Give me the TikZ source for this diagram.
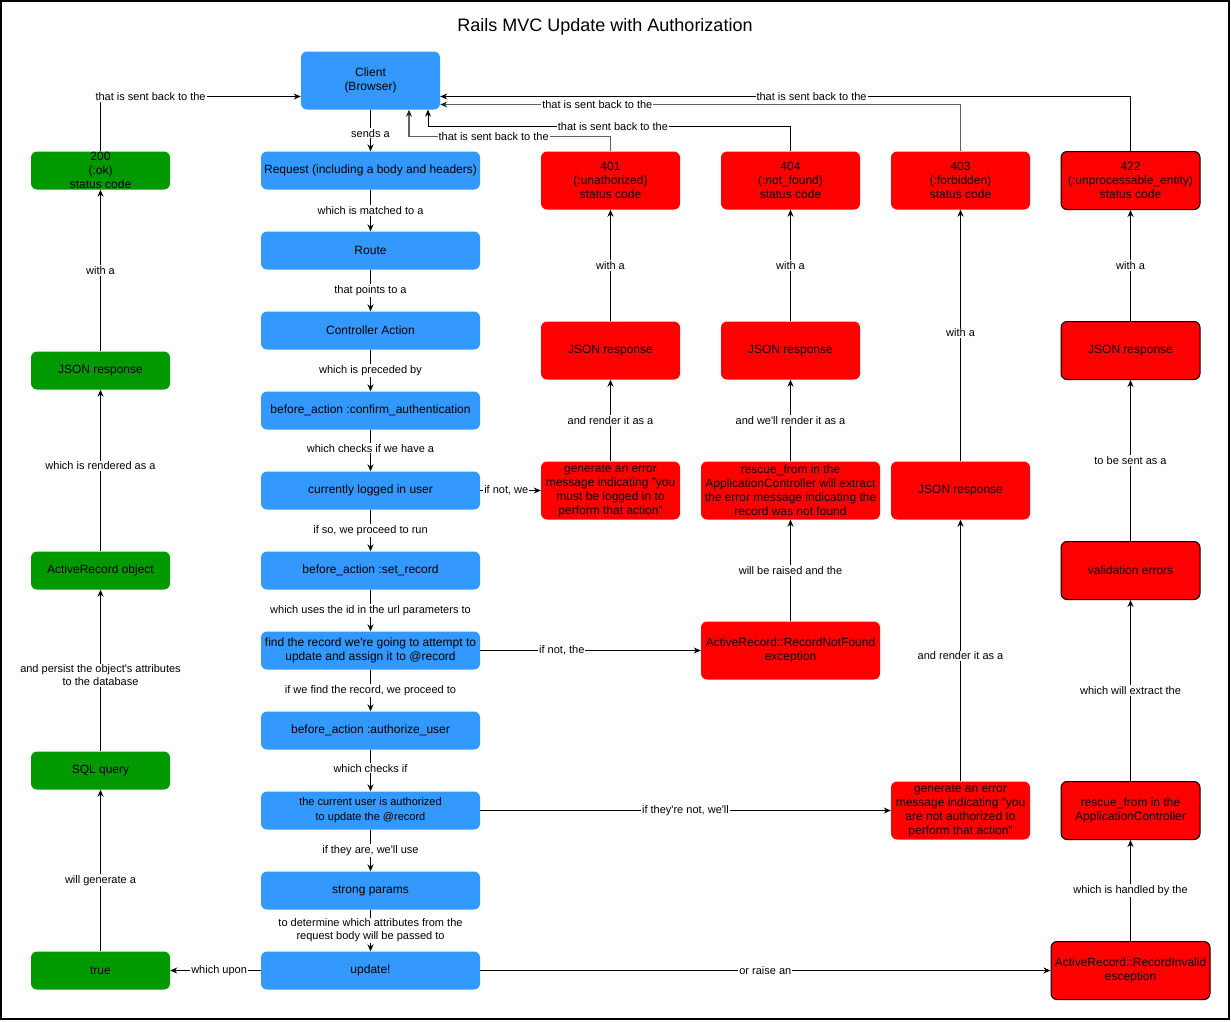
\documentclass[tikz,border=0pt]{standalone}
\usepackage{fontspec}
\setmainfont{Liberation Sans}
\usetikzlibrary{arrows.meta,calc}
\definecolor{railsblue}{HTML}{3399FF}
\definecolor{okgreen}{HTML}{009900}
\definecolor{errred}{HTML}{FF0000}
\newcommand{\aq}{\textquotesingle}
\begin{document}
\begin{tikzpicture}[x=1pt,y=-1pt,
  base/.style={rounded corners=6pt, inner sep=0pt, align=center,
    font=\fontsize{12}{14}\selectfont},
  bluebox/.style={base, fill=railsblue, minimum width=219pt, minimum height=38pt},
  greenbox/.style={base, fill=okgreen, minimum width=139pt, minimum height=38pt},
  redbox/.style={base, fill=errred, minimum width=139pt, minimum height=58pt},
  widered/.style={redbox, minimum width=179pt},
  outlined/.style={draw=black, line width=1pt},
  lbl/.style={fill=white, inner sep=1pt, font=\fontsize{11}{13}\selectfont, align=center},
  arr/.style={draw=black, line width=1pt, -{Stealth[length=7pt,width=6pt]}},
  grayarr/.style={draw=black!62, line width=1.2pt, -{Stealth[length=7pt,width=6pt,color=black!85]}},
]
\useasboundingbox (0,0) rectangle (1231,1021);
\draw[line width=1.5pt] (1,1) rectangle (1229,1019);

\node[font=\fontsize{18}{22}\selectfont] (title) at (605,27) {Rails MVC Update with Authorization};

% ---- request pipeline (blue) ----
\node[bluebox, minimum width=139pt, minimum height=58pt] (client) at (370.5,80.5) {Client\\(Browser)};
\node[bluebox] (request) at (370.5,170.5) {Request (including a body and headers)};
\node[bluebox] (route) at (370.5,250.5) {Route};
\node[bluebox] (action) at (370.5,330.5) {Controller Action};
\node[bluebox] (confirm) at (370.5,410.5) {before\_action :confirm\_authentication};
\node[bluebox] (logged) at (370.5,490.5) {currently logged in user};
\node[bluebox] (setrec) at (370.5,570.5) {before\_action :set\_record};
\node[bluebox] (find) at (370.5,650.5) {find the record we\aq re going to attempt to\\update and assign it to @record};
\node[bluebox] (authuser) at (370.5,730.5) {before\_action :authorize\_user};
\node[bluebox, font=\fontsize{11}{15}\selectfont] (authz) at (370.5,810.5) {the current user is authorized\\to update the @record};
\node[bluebox] (strong) at (370.5,890.5) {strong params};
\node[bluebox] (update) at (370.5,970.5) {update!};

% ---- success path (green) ----
\node[greenbox] (true) at (100.5,970.5) {true};
\node[greenbox] (sql) at (100.5,770.5) {SQL query};
\node[greenbox] (arobj) at (100.5,570.5) {ActiveRecord object};
\node[greenbox] (json200) at (100.5,370.5) {JSON response};
\node[greenbox] (ok) at (100.5,170.5) {};
\node[base] (oktext) at (ok.center) {200\\(:ok)\\status code};

% ---- 401 column ----
\node[redbox] (s401) at (610.5,180.5) {401\\(:unathorized)\\status code};
\node[redbox] (json401) at (610.5,350.5) {JSON response};
\node[redbox] (gen401) at (610.5,490.5) {generate an error\\message indicating "you\\must be logged in to\\perform that action"};

% ---- 404 column ----
\node[redbox] (s404) at (790.5,180.5) {404\\(:not\_found)\\status code};
\node[redbox] (json404) at (790.5,350.5) {JSON response};
\node[widered] (rescue404) at (790.5,490.5) {rescue\_from in the\\ApplicationController will extract\\the error message indicating the\\record was not found};
\node[widered] (notfound) at (790.5,650.5) {ActiveRecord::RecordNotFound\\exception};

% ---- 403 column ----
\node[redbox] (s403) at (960.5,180.5) {403\\(:forbidden)\\status code};
\node[redbox] (json403) at (960.5,490.5) {JSON response};
\node[redbox] (gen403) at (960.5,810.5) {generate an error\\message indicating "you\\are not authorized to\\perform that action"};

% ---- 422 column ----
\node[redbox, outlined] (s422) at (1130.5,180.5) {422\\(:unprocessable\_entity)\\status code};
\node[redbox, outlined] (json422) at (1130.5,350.5) {JSON response};
\node[redbox, outlined] (valerr) at (1130.5,570.5) {validation errors};
\node[redbox, outlined] (rescue422) at (1130.5,810.5) {rescue\_from in the\\ApplicationController};
\node[redbox, outlined, minimum width=159pt] (invalid) at (1130.5,970.5) {ActiveRecord::RecordInvalid\\esception};

% ---- pipeline connectors ----
\draw[arr] (client) -- node[lbl, pos=0.57]{sends a} (request);
\draw[arr] (request) -- node[lbl]{which is matched to a} (route);
\draw[arr] (route) -- node[lbl]{that points to a} (action);
\draw[arr] (action) -- node[lbl]{which is preceded by} (confirm);
\draw[arr] (confirm) -- node[lbl, pos=0.45]{which checks if we have a} (logged);
\draw[arr] (logged) -- node[lbl]{if so, we proceed to run} (setrec);
\draw[arr] (setrec) -- node[lbl]{which uses the id in the url parameters to} (find);
\draw[arr] (find) -- node[lbl]{if we find the record, we proceed to} (authuser);
\draw[arr] (authuser) -- node[lbl, pos=0.45]{which checks if} (authz);
\draw[arr] (authz) -- node[lbl]{if they are, we\aq ll use} (strong);
\draw[arr] (strong) -- node[lbl]{to determine which attributes from the\\request body will be passed to} (update);

% ---- success connectors ----
\draw[arr] (update) -- node[lbl, pos=0.46]{which upon} (true);
\draw[arr] (true) -- node[lbl, pos=0.44]{will generate a} (sql);
\draw[arr] (sql) -- node[lbl, pos=0.47]{and persist the object\aq s attributes\\to the database} (arobj);
\draw[arr] (arobj) -- node[lbl, pos=0.53]{which is rendered as a} (json200);
\draw[arr] (json200) -- node[lbl]{with a} (ok);
\draw[arr] (ok.north) |- node[lbl, pos=0.625]{that is sent back to the} ($(client.west)+(0,16)$);

% ---- 401 connectors ----
\draw[arr] (logged) -- node[lbl, pos=0.43]{if not, we} (gen401);
\draw[arr] (gen401) -- node[lbl]{and render it as a} (json401);
\draw[arr] (json401) -- node[lbl]{with a} (s401);
\draw[grayarr] (s401.north) |- node[lbl, text=black, pos=0.79]{that is sent back to the} ($(client.south)+(38.5,27)$) -- ($(client.south)+(38.5,0)$);

% ---- 404 connectors ----
\draw[arr] (find) -- node[lbl, pos=0.37]{if not, the} (notfound);
\draw[arr] (notfound) -- node[lbl]{will be raised and the} (rescue404);
\draw[arr] (rescue404) -- node[lbl]{and we\aq ll render it as a} (json404);
\draw[arr] (json404) -- node[lbl]{with a} (s404);
\draw[arr] (s404.north) |- node[lbl, pos=0.745]{that is sent back to the} ($(client.south)+(57.5,17)$) -- ($(client.south)+(57.5,0)$);

% ---- 403 connectors ----
\draw[arr] (authz) -- node[lbl]{if they\aq re not, we\aq ll} (gen403);
\draw[arr] (gen403) -- node[lbl, pos=0.48]{and render it as a} (json403);
\draw[arr] (json403) -- node[lbl, pos=0.51]{with a} (s403);
\draw[grayarr] (s403.north) |- node[lbl, text=black, pos=0.849]{that is sent back to the} ($(client.east)+(0,24)$);

% ---- 422 connectors ----
\draw[arr] (update) -- node[lbl]{or raise an} (invalid);
\draw[arr] (invalid) -- node[lbl]{which is handled by the} (rescue422);
\draw[arr] (rescue422) -- node[lbl]{which will extract the} (valerr);
\draw[arr] (valerr) -- node[lbl]{to be sent as a} (json422);
\draw[arr] (json422) -- node[lbl]{with a} (s422);
\draw[arr] (s422.north) |- node[lbl, pos=0.731]{that is sent back to the} ($(client.east)+(0,16)$);
\end{tikzpicture}
\end{document}
